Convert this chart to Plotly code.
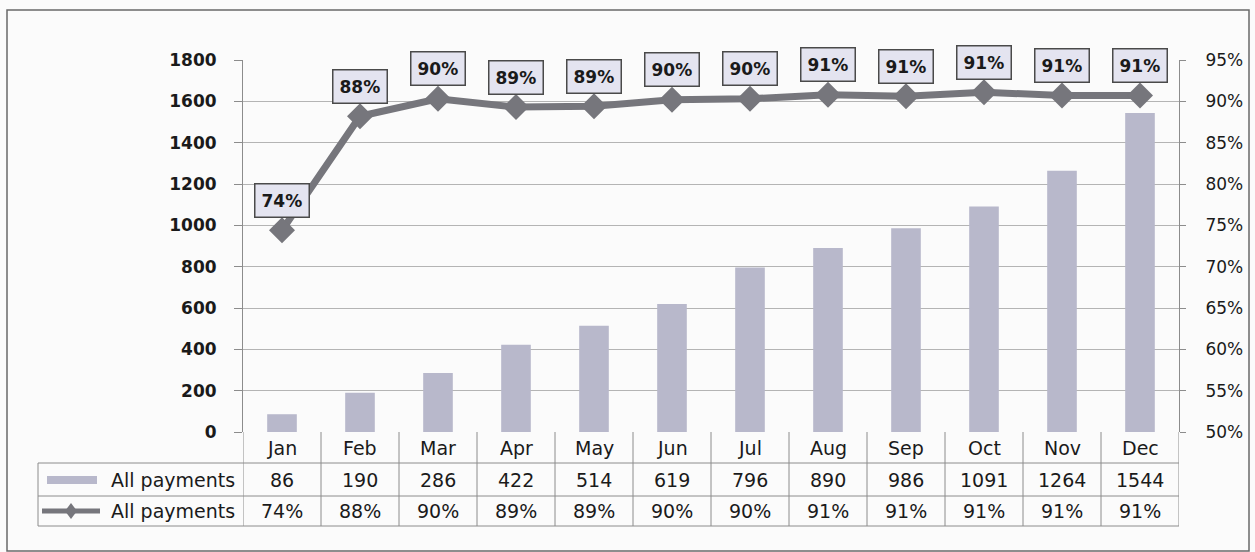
import plotly.graph_objects as go

months = ["Jan", "Feb", "Mar", "Apr", "May", "Jun", "Jul", "Aug", "Sep", "Oct", "Nov", "Dec"]
payments = [86, 190, 286, 422, 514, 619, 796, 890, 986, 1091, 1264, 1544]
pct_paid = [74.4, 88.2, 90.3, 89.3, 89.4, 90.2, 90.3, 90.8, 90.6, 91.1, 90.7, 90.7]
left_ticks = [0, 200, 400, 600, 800, 1000, 1200, 1400, 1600, 1800]
right_ticks = [50, 55, 60, 65, 70, 75, 80, 85, 90, 95]
series_name = "All payments"

W, H = 1255, 552
L, R, T, B = 243, 76, 60, 120
PW, PH = W - L - R, H - T - B

BAR_COLOR = "#b8b8cb"
LINE_COLOR = "#76767c"
GRID = "#b4b4b4"
TXT = "#1a1a1a"


def py(pix):
    # pixel row -> paper y
    return (H - B - pix) / PH


def px(pix):
    return (pix - L) / PW


fig = go.Figure()

fig.add_trace(go.Bar(
    x=months, y=payments, name=series_name,
    marker=dict(color=BAR_COLOR, line=dict(width=0)),
    width=0.38,
))

fig.add_trace(go.Scatter(
    x=months, y=pct_paid, name=series_name, yaxis="y2",
    mode="lines+markers",
    line=dict(color=LINE_COLOR, width=7),
    marker=dict(symbol="diamond", size=20, color=LINE_COLOR),
))

annotations = []
shapes = []

# data labels above the markers
for m, v in zip(months, pct_paid):
    annotations.append(dict(
        x=m, y=v, xref="x", yref="y2", yshift=30,
        text=f"<b>{round(v)}%</b>", showarrow=False,
        font=dict(family="DejaVu Sans", size=17, color=TXT),
        bgcolor="#e4e4f0", bordercolor="#4a4a4a", borderwidth=1.5, borderpad=6,
    ))

# data table below the plot
tfont = dict(family="DejaVu Sans", size=19, color=TXT)
row_y = [py(448), py(480), py(511)]
for i, m in enumerate(months):
    cells = [m, str(payments[i]), f"{round(pct_paid[i])}%"]
    for y, txt in zip(row_y, cells):
        annotations.append(dict(x=m, y=y, xref="x", yref="paper", text=txt,
                                xanchor="center", yanchor="middle",
                                showarrow=False, font=tfont))

for y in row_y[1:]:
    annotations.append(dict(x=px(237), y=y, xref="paper", yref="paper", text=series_name,
                            xanchor="right", yanchor="middle", showarrow=False, font=tfont))

# legend keys in the table
shapes.append(dict(type="rect", xref="paper", yref="paper",
                   x0=px(47), x1=px(97), y0=py(484), y1=py(476),
                   fillcolor=BAR_COLOR, line=dict(width=0)))
shapes.append(dict(type="line", xref="paper", yref="paper",
                   x0=px(42), x1=px(100), y0=row_y[2], y1=row_y[2],
                   line=dict(color=LINE_COLOR, width=5)))
shapes.append(dict(type="path", xref="paper", yref="paper",
                   path=f"M {px(65)},{row_y[2]} L {px(71)},{py(503)} L {px(77)},{row_y[2]} L {px(71)},{py(519)} Z",
                   fillcolor=LINE_COLOR, line=dict(width=0)))

tline = dict(color="#8c8c8c", width=1)
for k in range(len(months) + 1):
    shapes.append(dict(type="line", xref="x", yref="paper", x0=k - 0.5, x1=k - 0.5,
                       y0=0, y1=py(526), line=tline))
for pix in (463, 496, 526):
    shapes.append(dict(type="line", xref="paper", yref="paper", x0=px(38), x1=1,
                       y0=py(pix), y1=py(pix), line=tline))
shapes.append(dict(type="line", xref="paper", yref="paper", x0=px(38), x1=px(38),
                   y0=py(463), y1=py(526), line=tline))

# outer frame
shapes.append(dict(type="rect", xref="paper", yref="paper",
                   x0=px(7), x1=px(1249), y0=py(551), y1=py(10),
                   line=dict(color="#6a6a6a", width=1.5), fillcolor="rgba(0,0,0,0)"))

fig.update_layout(
    width=W, height=H,
    margin=dict(l=L, r=R, t=T, b=B),
    paper_bgcolor="#fbfbfb", plot_bgcolor="#fbfbfb",
    showlegend=False,
    annotations=annotations, shapes=shapes,
    xaxis=dict(
        type="category", range=[-0.5, 11.5], showticklabels=False,
        showgrid=False, showline=False, zeroline=False, ticks="",
    ),
    yaxis=dict(
        range=[0, 1800], tickvals=left_ticks, showline=True, linecolor="#8c8c8c",
        gridcolor=GRID, gridwidth=1, zeroline=False,
        ticks="outside", ticklen=8, tickcolor="#8c8c8c", ticklabelstandoff=14,
        tickfont=dict(family="DejaVu Sans", size=17, color=TXT, weight="bold"),
    ),
    yaxis2=dict(
        range=[50, 95], tickvals=right_ticks, ticktext=[f"{t}%" for t in right_ticks],
        overlaying="y", side="right", showgrid=False, zeroline=False,
        showline=True, linecolor="#8c8c8c",
        ticks="outside", ticklen=6, tickcolor="#8c8c8c", ticklabelstandoff=16,
        tickfont=dict(family="DejaVu Sans", size=17, color=TXT),
    ),
)

fig.write_html("out.html", config={"displayModeBar": False},
               post_script="document.body.style.margin='0';")
